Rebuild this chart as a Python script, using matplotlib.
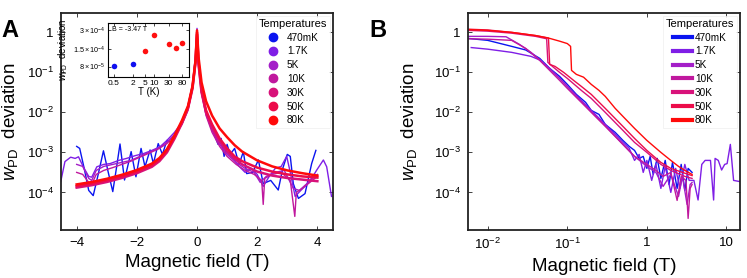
import numpy as np
import matplotlib
matplotlib.use('Agg')
import matplotlib.pyplot as plt
from matplotlib.ticker import FixedLocator, FixedFormatter, NullLocator

plt.rcParams['font.family'] = ['Liberation Sans', 'DejaVu Sans']
plt.rcParams['mathtext.fontset'] = 'custom'
plt.rcParams['mathtext.rm'] = 'Liberation Sans'
plt.rcParams['mathtext.it'] = 'Liberation Sans:italic'
plt.rcParams['mathtext.bf'] = 'Liberation Sans:bold'

# ---- data ----
temps = ['470mK', '1.7K', '5K', '10K', '30K', '50K', '80K']
colors = ['#0a14f0', '#7f1ee6', '#a41ec8', '#c0189e', '#d8127a', '#ec0c4a', '#ff0a0a']

# panel A: (field T, log10 w_PD deviation)
a_470mK = np.array([
    (-4.0, -2.85), (-3.9, -2.9), (-3.75, -3.4), (-3.6, -3.95), (-3.45, -4.08), (-3.3, -3.6),
    (-3.11, -2.96), (-2.95, -3.5), (-2.8, -3.98), (-2.68, -3.4), (-2.56, -2.79), (-2.41, -3.69),
    (-2.19, -2.98), (-2.03, -3.61), (-1.86, -2.9), (-1.73, -3.36), (-1.56, -2.94), (-1.45, -3.28),
    (-1.29, -2.78), (-1.15, -3.05), (-1.0, -2.7), (-0.85, -2.75), (-0.7, -2.5), (-0.5, -2.25),
    (-0.3, -1.85), (-0.15, -1.3), (-0.05, -0.6), (0.0, -0.05), (0.05, -0.7), (0.15, -1.4),
    (0.3, -1.95), (0.45, -2.3), (0.6, -2.6), (0.7, -2.8), (0.8, -2.65), (0.9, -3.1), (1.0, -2.8),
    (1.1, -3.05), (1.25, -2.9), (1.4, -3.3), (1.54, -2.98), (1.65, -3.53), (1.85, -3.5),
    (2.04, -3.19), (2.2, -3.78), (2.45, -3.7), (2.7, -3.94), (2.85, -3.4), (3.0, -3.05),
    (3.1, -3.1), (3.2, -3.78), (3.37, -4.15), (3.59, -4.03), (3.81, -3.28), (3.95, -2.95)])
a_1p7K = np.array([
    (-4.53, -3.73), (-4.39, -3.23), (-4.2, -3.12), (-4.05, -3.15), (-3.94, -3.11), (-3.78, -3.36),
    (-3.6, -3.6), (-3.5, -3.62), (-3.33, -3.36), (-3.1, -3.3), (-2.89, -3.28), (-2.6, -3.2),
    (-2.34, -3.15), (-2.05, -3.08), (-1.78, -3.03), (-1.5, -2.95), (-1.23, -2.86), (-1.0, -2.7),
    (-0.75, -2.5), (-0.5, -2.25), (-0.3, -1.9), (-0.15, -1.35), (-0.05, -0.7), (0.0, 0.1),
    (0.05, -0.75), (0.15, -1.45), (0.3, -2.0), (0.5, -2.4), (0.75, -2.75), (1.0, -3.0),
    (1.2, -3.15), (1.4, -3.35), (1.6, -3.5), (1.8, -3.4), (2.0, -3.55), (2.2, -3.85), (2.4, -3.6),
    (2.6, -3.4), (2.8, -3.35), (2.98, -3.1), (3.1, -3.5), (3.26, -4.1), (3.45, -3.95),
    (3.65, -3.8), (3.85, -3.6), (3.98, -3.44), (4.2, -3.19), (4.31, -3.36), (4.47, -4.1)])
a_5K = np.array([
    (-4.0, -3.3), (-3.8, -3.35), (-3.6, -3.65), (-3.5, -3.7), (-3.35, -3.45), (-3.1, -3.35),
    (-2.8, -3.3), (-2.5, -3.25), (-2.2, -3.2), (-1.9, -3.1), (-1.6, -3.0), (-1.3, -2.9),
    (-1.0, -2.75), (-0.75, -2.55), (-0.5, -2.28), (-0.3, -1.92), (-0.15, -1.38), (-0.05, -0.72),
    (0.0, 0.05), (0.05, -0.78), (0.15, -1.5), (0.3, -2.05), (0.5, -2.45), (0.75, -2.8),
    (1.0, -3.05), (1.3, -3.25), (1.6, -3.4), (1.9, -3.5), (2.1, -3.75), (2.3, -3.6), (2.6, -3.5),
    (2.9, -3.45), (3.2, -3.9), (3.4, -3.95), (3.7, -3.75), (4.0, -3.55)])
a_10K = np.array([
    (-4.0, -3.5), (-3.8, -3.55), (-3.6, -3.75), (-3.5, -3.8), (-3.35, -3.55), (-3.1, -3.45),
    (-2.8, -3.38), (-2.5, -3.3), (-2.2, -3.22), (-1.9, -3.12), (-1.6, -3.02), (-1.3, -2.92),
    (-1.0, -2.78), (-0.75, -2.58), (-0.5, -2.3), (-0.3, -1.95), (-0.15, -1.4), (-0.05, -0.75),
    (0.0, 0.0), (0.05, -0.8), (0.15, -1.52), (0.3, -2.08), (0.5, -2.5), (0.75, -2.85),
    (1.0, -3.1), (1.3, -3.3), (1.6, -3.45), (1.9, -3.55), (2.15, -3.7), (2.2, -4.3), (2.25, -3.65),
    (2.5, -3.55), (2.8, -3.5), (3.1, -3.7), (3.25, -4.6), (3.3, -4.0), (3.5, -3.9),
    (3.75, -3.75), (4.0, -3.6)])
a_30K = np.array([
    (-4.0, -3.88), (-3.5, -3.82), (-3.0, -3.74), (-2.5, -3.64), (-2.0, -3.52), (-1.5, -3.36),
    (-1.25, -3.22), (-1.0, -3.0), (-0.75, -2.66), (-0.5, -2.27), (-0.3, -1.9), (-0.15, -1.4),
    (-0.05, -0.75), (0.0, -0.05), (0.05, -0.8), (0.15, -1.5), (0.3, -2.0), (0.5, -2.38),
    (0.75, -2.72), (1.0, -2.98), (1.25, -3.16), (1.5, -3.3), (2.0, -3.48), (2.5, -3.58),
    (3.0, -3.64), (3.5, -3.68), (4.0, -3.72)])
a_50K = np.array([
    (-4.0, -3.84), (-3.5, -3.78), (-3.0, -3.7), (-2.5, -3.6), (-2.0, -3.48), (-1.5, -3.32),
    (-1.25, -3.18), (-1.0, -2.96), (-0.75, -2.62), (-0.5, -2.24), (-0.3, -1.87), (-0.15, -1.37),
    (-0.05, -0.72), (0.0, 0.0), (0.05, -0.75), (0.15, -1.45), (0.3, -1.95), (0.5, -2.3),
    (0.75, -2.65), (1.0, -2.9), (1.25, -3.1), (1.5, -3.22), (2.0, -3.38), (2.5, -3.48),
    (3.0, -3.55), (3.5, -3.6), (4.0, -3.63)])
a_80K = np.array([
    (-4.0, -3.8), (-3.5, -3.74), (-3.0, -3.66), (-2.5, -3.56), (-2.0, -3.44), (-1.5, -3.28),
    (-1.25, -3.14), (-1.0, -2.92), (-0.75, -2.58), (-0.5, -2.2), (-0.3, -1.84), (-0.15, -1.34),
    (-0.05, -0.7), (0.0, 0.05), (0.05, -0.62), (0.15, -1.25), (0.3, -1.72), (0.5, -2.08),
    (0.75, -2.4), (1.0, -2.62), (1.25, -2.82), (1.5, -2.98), (2.0, -3.2), (2.5, -3.35),
    (3.0, -3.45), (3.5, -3.52), (4.0, -3.58)])
a_curves = [a_470mK, a_1p7K, a_5K, a_10K, a_30K, a_50K, a_80K]

# panel B: (|field| T, log10 w_PD deviation)
b_470mK = np.array([
    (0.0056, -0.15), (0.01, -0.2), (0.02, -0.35), (0.03, -0.44), (0.045, -0.65), (0.06, -0.9),
    (0.08, -1.1), (0.1, -1.3), (0.13, -1.55), (0.17, -1.75), (0.2, -1.95), (0.25, -2.05),
    (0.3, -2.3), (0.4, -2.5), (0.5, -2.7), (0.6, -2.85), (0.7, -2.95), (0.8, -3.15), (0.9, -3.1),
    (1.0, -3.4), (1.1, -3.1), (1.2, -3.55), (1.35, -3.15), (1.5, -3.65), (1.7, -3.2),
    (1.9, -3.8), (2.1, -3.25), (2.4, -3.9), (2.7, -3.3), (3.0, -3.95), (3.3, -3.4), (3.7, -3.5)])
b_1p7K = np.array([
    (0.0062, -0.38), (0.01, -0.42), (0.02, -0.5), (0.035, -0.6), (0.045, -0.69), (0.06, -0.9),
    (0.08, -1.15), (0.1, -1.35), (0.15, -1.7), (0.2, -1.95), (0.3, -2.3), (0.4, -2.55),
    (0.5, -2.75), (0.6, -2.9), (0.7, -3.2), (0.8, -3.05), (0.9, -3.5), (1.0, -3.2), (1.15, -3.7),
    (1.3, -3.3), (1.5, -3.9), (1.7, -3.35), (2.0, -4.0), (2.3, -3.4), (2.6, -3.9), (3.0, -3.3),
    (3.4, -3.7), (3.9, -3.7), (4.4, -4.19), (4.9, -3.3), (5.4, -3.2), (6.3, -3.2), (6.9, -4.19),
    (7.2, -3.15), (7.9, -3.2), (8.7, -3.44), (9.5, -3.3), (10.2, -3.28), (11.2, -2.8),
    (12.3, -3.7), (14.8, -3.73)])
b_5K = np.array([
    (0.0056, -0.1), (0.01, -0.1), (0.017, -0.11), (0.025, -0.3), (0.035, -0.5), (0.045, -0.68),
    (0.06, -0.92), (0.08, -1.15), (0.1, -1.35), (0.15, -1.72), (0.2, -1.98), (0.3, -2.33),
    (0.5, -2.8), (0.7, -3.1), (1.0, -3.35), (1.3, -3.5), (1.6, -3.85), (2.0, -3.55),
    (2.5, -4.1), (2.8, -3.6), (3.2, -4.3), (3.5, -3.8), (3.7, -3.75)])
b_10K = np.array([
    (0.0056, -0.16), (0.01, -0.17), (0.02, -0.2), (0.03, -0.4), (0.045, -0.7), (0.06, -0.95),
    (0.08, -1.2), (0.1, -1.4), (0.15, -1.75), (0.2, -2.0), (0.3, -2.35), (0.5, -2.8),
    (0.7, -3.1), (1.0, -3.3), (1.3, -3.45), (1.6, -3.6), (2.0, -3.5), (2.4, -4.2), (2.7, -3.6),
    (3.1, -3.7), (3.3, -4.65), (3.5, -3.9), (3.7, -3.8)])
b_30K = np.array([
    (0.0056, 0.05), (0.01, 0.03), (0.02, -0.02), (0.04, -0.1), (0.055, -0.16), (0.057, -0.75),
    (0.065, -0.85), (0.08, -1.0), (0.1, -1.15), (0.15, -1.45), (0.2, -1.65), (0.3, -2.0),
    (0.5, -2.45), (0.7, -2.75), (1.0, -3.0), (1.5, -3.3), (2.0, -3.45), (3.0, -3.6),
    (3.7, -3.65)])
b_50K = np.array([
    (0.0056, 0.08), (0.01, 0.06), (0.02, 0.0), (0.04, -0.08), (0.058, -0.14), (0.06, -0.8),
    (0.07, -0.85), (0.09, -1.0), (0.12, -1.2), (0.15, -1.35), (0.2, -1.55), (0.3, -1.9),
    (0.5, -2.35), (0.7, -2.65), (1.0, -2.95), (1.5, -3.25), (2.0, -3.4), (3.0, -3.52),
    (3.7, -3.58)])
b_80K = np.array([
    (0.0056, 0.07), (0.01, 0.05), (0.02, 0.0), (0.04, -0.08), (0.06, -0.15), (0.08, -0.22),
    (0.1, -0.28), (0.11, -0.35), (0.113, -0.95), (0.13, -1.05), (0.16, -1.12), (0.2, -1.3),
    (0.25, -1.45), (0.3, -1.6), (0.4, -1.9), (0.5, -2.1), (0.7, -2.4), (1.0, -2.7), (1.5, -3.0),
    (2.0, -3.2), (2.5, -3.35), (3.0, -3.45), (3.7, -3.55)])
b_curves = [b_470mK, b_1p7K, b_5K, b_10K, b_30K, b_50K, b_80K]

# inset: deviation at B = -3.47 T vs temperature
inset_T = [0.5, 2, 5, 10, 30, 50, 80]
inset_w = [8.2e-5, 8.8e-5, 1.38e-4, 2.48e-4, 1.78e-4, 1.58e-4, 1.83e-4]
inset_colors = ['#1010f0', '#1010f0', '#ff1010', '#ff1010', '#ff1010', '#ff1010', '#ff1010']

y_ticks = [1e-4, 1e-3, 1e-2, 1e-1, 1]
y_ticklabels = [r'$10^{-4}$', r'$10^{-3}$', r'$10^{-2}$', r'$10^{-1}$', '1']
ylabel = r'$w_{\mathrm{PD}}$  deviation'


def style_axes(ax):
    for s in ax.spines.values():
        s.set_linewidth(1.3)
        s.set_color('#222222')
    ax.tick_params(direction='in', top=True, right=True, length=3, width=0.6,
                   labelsize=9.5, pad=5, colors='#222222', labelcolor='black')


fig = plt.figure(figsize=(7.47, 2.78), dpi=100)

# ---- panel A ----
axA = fig.add_axes([0.0813, 0.1727, 0.3645, 0.7816])
for name, pts, c in zip(temps, a_curves, colors):
    lw = 1.8 if name in ('30K', '50K', '80K') else 1.0
    axA.plot(pts[:, 0], 10 ** pts[:, 1], color=c, lw=lw, label=name)
axA.set_yscale('log')
axA.set_xlim(-4.53, 4.52)
axA.set_ylim(1.15e-5, 3.1)
axA.xaxis.set_major_locator(FixedLocator([-4, -2, 0, 2, 4]))
axA.yaxis.set_major_locator(FixedLocator(y_ticks))
axA.yaxis.set_major_formatter(FixedFormatter(y_ticklabels))
axA.yaxis.set_minor_locator(NullLocator())
style_axes(axA)
axA.set_xlabel('Magnetic field (T)', fontsize=13.5, labelpad=4)
axA.set_ylabel(ylabel, fontsize=13.5)
axA.yaxis.set_label_coords(-0.15, 0.5)

# legend with round markers
handles = [plt.Line2D([], [], ls='none', marker='o', ms=6, color=c) for c in colors]
legA = axA.legend(handles, temps, title='Temperatures', loc='upper right', fontsize=7.2,
                  title_fontsize=8, frameon=True, fancybox=False, handlelength=1.2,
                  labelspacing=0.38, borderaxespad=0.3, borderpad=0.3)
legA.get_frame().set_edgecolor('#eeeeee')
legA.get_frame().set_linewidth(0.6)

# inset
axI = fig.add_axes([0.1446, 0.723, 0.1084, 0.194])
for t, w, c in zip(inset_T, inset_w, inset_colors):
    axI.plot(t, w, 'o', color=c, ms=4, mec='none')
axI.set_xscale('log')
axI.set_yscale('log')
axI.set_xlim(0.32, 135)
axI.set_ylim(5.5e-5, 3.8e-4)
axI.xaxis.set_major_locator(FixedLocator([0.5, 2, 5, 10, 30, 80]))
axI.xaxis.set_major_formatter(FixedFormatter(['0.5', '2', '5', '10', '30', '80']))
axI.xaxis.set_minor_locator(NullLocator())
axI.yaxis.set_major_locator(FixedLocator([8e-5, 1.5e-4, 3e-4]))
axI.yaxis.set_major_formatter(FixedFormatter([r'$8\times10^{-5}$', r'$1.5\times10^{-4}$',
                                              r'$3\times10^{-4}$']))
axI.yaxis.set_minor_locator(NullLocator())
for s in axI.spines.values():
    s.set_linewidth(0.8)
axI.tick_params(axis='x', direction='in', top=True, length=2, width=0.5, labelsize=6, pad=2)
axI.tick_params(axis='y', direction='in', right=True, length=2, width=0.5, labelsize=5.2, pad=2)
axI.set_xlabel('T (K)', fontsize=7, labelpad=0)
axI.set_ylabel(ylabel, fontsize=7)
axI.yaxis.set_label_coords(-0.47, 0.5)
axI.text(0.05, 0.86, 'B = -3.47 T', transform=axI.transAxes, fontsize=5)

# ---- panel B ----
axB = fig.add_axes([0.6261, 0.1727, 0.3645, 0.7816])
for name, pts, c in zip(temps, b_curves, colors):
    axB.plot(pts[:, 0], 10 ** pts[:, 1], color=c, lw=1.0, label=name)
axB.set_xscale('log')
axB.set_yscale('log')
axB.set_xlim(0.0056, 14.8)
axB.set_ylim(1.15e-5, 3.1)
axB.xaxis.set_major_locator(FixedLocator([1e-2, 1e-1, 1, 10]))
axB.xaxis.set_major_formatter(FixedFormatter([r'$10^{-2}$', r'$10^{-1}$', '1', '10']))
axB.xaxis.set_minor_locator(NullLocator())
axB.yaxis.set_major_locator(FixedLocator(y_ticks))
axB.yaxis.set_major_formatter(FixedFormatter(y_ticklabels))
axB.yaxis.set_minor_locator(NullLocator())
style_axes(axB)
axB.set_xlabel('Magnetic field (T)', fontsize=13.5, labelpad=4)
axB.set_ylabel(ylabel, fontsize=13.5)
axB.yaxis.set_label_coords(-0.18, 0.5)

handlesB = [plt.Line2D([], [], lw=3, color=c) for c in colors]
legB = axB.legend(handlesB, temps, title='Temperatures', loc='upper right', fontsize=7.2,
                  title_fontsize=8, frameon=True, fancybox=False, handlelength=1.9,
                  labelspacing=0.38, borderaxespad=0.3, borderpad=0.3, handletextpad=0.3)
legB.get_frame().set_edgecolor('#eeeeee')
legB.get_frame().set_linewidth(0.6)

# panel letters
fig.text(0.013, 0.89, 'A', fontsize=17, fontweight='bold', va='center', ha='center')
fig.text(0.506, 0.89, 'B', fontsize=17, fontweight='bold', va='center', ha='center')

fig.savefig('out.png', dpi=100)
